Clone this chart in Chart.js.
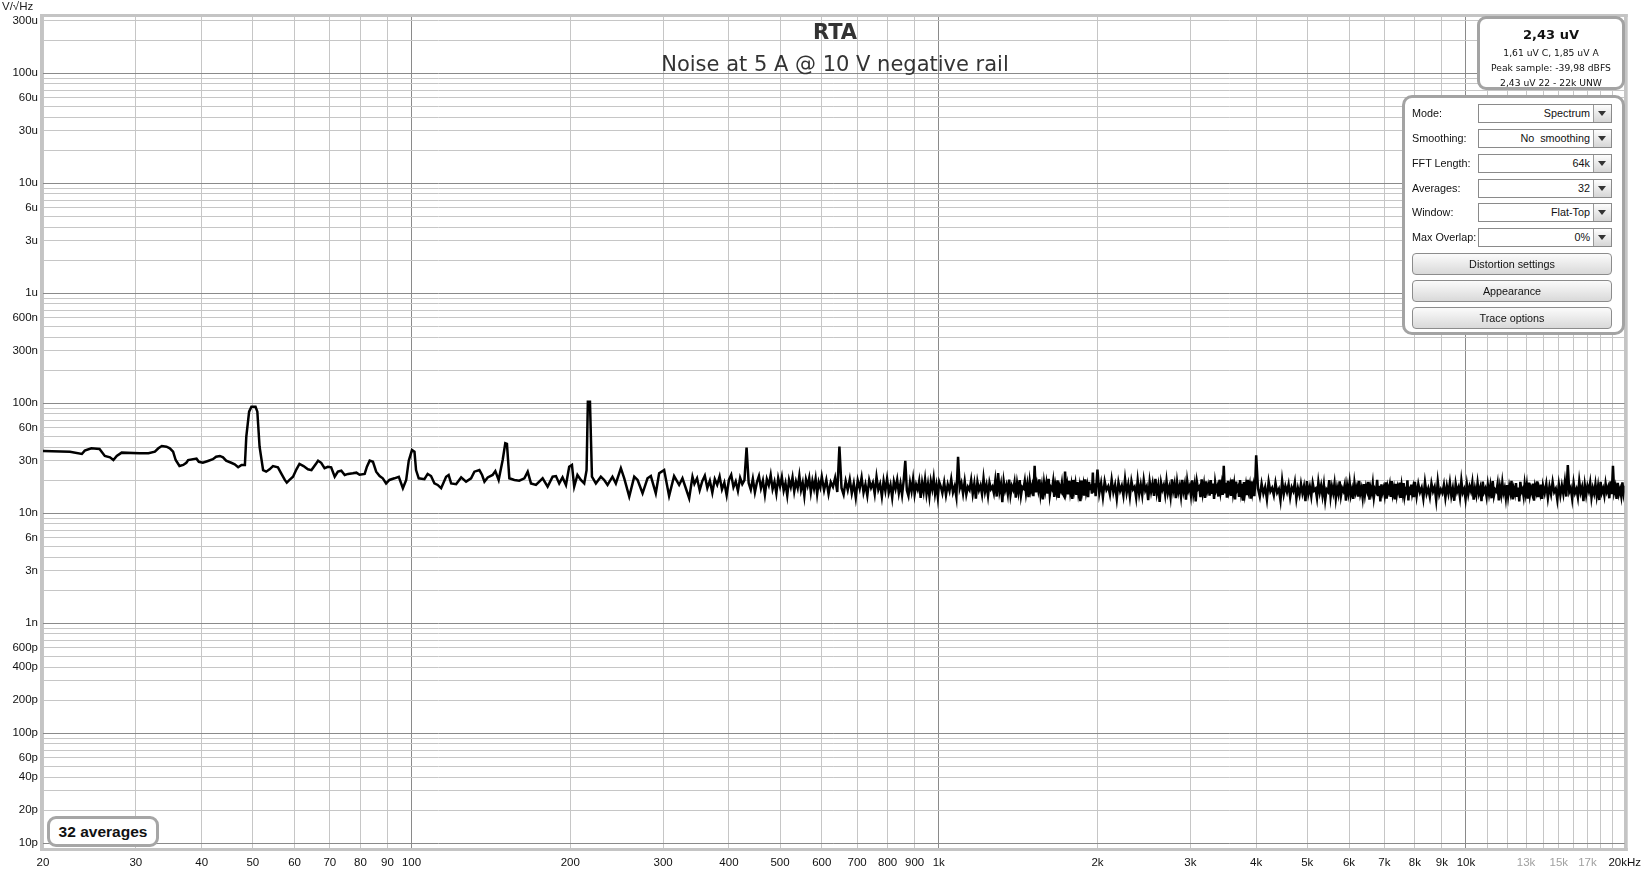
<!DOCTYPE html>
<html>
<head>
<meta charset="utf-8">
<title>RTA</title>
<script src="https://cdn.jsdelivr.net/npm/chart.js@4.4.1/dist/chart.umd.min.js"></script>
<style>
body { margin: 0; background: #fff; }
#wrap { position: relative; width: 1649px; height: 874px; font-family: "Liberation Sans", Arial, sans-serif; color: #111; }
#rta { position: absolute; left: 0; top: 0; }
.unidade { position: absolute; left: 2px; top: 0; font-size: 11.5px; line-height: 13px; color: #222; }
.titulo { position: absolute; left: 43px; width: 1584px; text-align: center; font-family: "DejaVu Sans", sans-serif; line-height: 1; }
.leitura { position: absolute; left: 1477px; top: 16px; width: 142px; height: 68px; border: 3px solid #a3a3a3; border-radius: 9px; background: #fff; }
.leitura div { position: absolute; left: 0; width: 100%; text-align: center; font-family: "DejaVu Sans", sans-serif; font-size: 9.2px; line-height: 14px; color: #111; }
.leitura .grande { font-size: 13px; font-weight: bold; line-height: 18px; }
.painel { position: absolute; left: 1402px; top: 95px; width: 217px; height: 234px; border: 3px solid #a3a3a3; border-radius: 10px; background: #fff; }
.rotulo { position: absolute; left: 1412px; height: 19px; line-height: 19px; font-size: 10.8px; color: #111; }
.combo { position: absolute; left: 1478px; width: 134px; height: 19px; box-sizing: border-box; border: 1px solid #8a8a8a; background: #fff; text-align: right; padding-right: 21px; line-height: 17px; font-size: 10.8px; }
.combo .seta { position: absolute; right: 0; top: 0; width: 17px; height: 17px; border-left: 1px solid #9a9a9a; background: linear-gradient(#fdfdfd, #d6d6d6); }
.combo .seta::after { content: ""; position: absolute; left: 4px; top: 6px; border-left: 4px solid transparent; border-right: 4px solid transparent; border-top: 5px solid #333; }
.botao { position: absolute; left: 1412px; width: 200px; height: 22px; box-sizing: border-box; border: 1px solid #8c8c8c; border-radius: 4px; background: linear-gradient(#fbfbfb, #d9d9d9); text-align: center; line-height: 20px; font-size: 10.8px; }
.medias { position: absolute; left: 47px; top: 816px; width: 106px; height: 25px; border: 3px solid #a6a6a6; border-radius: 9px; background: #fff; text-align: center; line-height: 25px; font-size: 15.5px; font-weight: bold; color: #111; }
</style>
</head>
<body>
<div id="wrap">
  <canvas id="rta" width="1649" height="874"></canvas>
  <div class="unidade">V/√Hz</div>
  <div class="titulo" style="top:22px; font-size:21px; font-weight:bold; color:#333;">RTA</div>
  <div class="titulo" style="top:54px; font-size:21px; color:#333;">Noise at 5 A @ 10 V negative rail</div>

  <div class="leitura">
    <div class="grande" style="top:7px;">2,43 uV</div>
    <div style="top:27px;">1,61 uV C, 1,85 uV A</div>
    <div style="top:42px;">Peak sample: -39,98 dBFS</div>
    <div style="top:57px;">2,43 uV 22 - 22k UNW</div>
  </div>

  <div class="painel"></div>
  <div class="rotulo" style="top:104px;">Mode:</div>
  <div class="combo" style="top:104px;">Spectrum<span class="seta"></span></div>
  <div class="rotulo" style="top:129px;">Smoothing:</div>
  <div class="combo" style="top:129px;">No&nbsp; smoothing<span class="seta"></span></div>
  <div class="rotulo" style="top:154px;">FFT Length:</div>
  <div class="combo" style="top:154px;">64k<span class="seta"></span></div>
  <div class="rotulo" style="top:179px;">Averages:</div>
  <div class="combo" style="top:179px;">32<span class="seta"></span></div>
  <div class="rotulo" style="top:203px;">Window:</div>
  <div class="combo" style="top:203px;">Flat-Top<span class="seta"></span></div>
  <div class="rotulo" style="top:228px;">Max Overlap:</div>
  <div class="combo" style="top:228px;">0%<span class="seta"></span></div>
  <div class="botao" style="top:253px;">Distortion settings</div>
  <div class="botao" style="top:280px;">Appearance</div>
  <div class="botao" style="top:307px;">Trace options</div>

  <div class="medias">32 averages</div>
</div>

<script>
// RTA - ruido da fonte (V/sqrt(Hz)), valores em nV

// 20 a 103 Hz (bins largos, com o pico de 50 Hz)
var baixoHz = [20, 22.5, 23.7, 24.0, 24.7, 25.6, 26.2, 26.8, 27.2, 27.6, 28.2, 30.5, 31.7, 32.6, 33.1, 33.6, 34.3, 34.8, 35.3, 35.7,
    36.3, 36.9, 37.4, 37.7, 39.1, 39.5, 40.2, 41.1, 42.0, 42.6, 43.3, 43.9, 44.5, 45.5, 46.2, 46.9, 47.6, 48.3, 48.6, 49.2,
    49.7, 50.6, 51.0, 51.5, 52.3, 53.0, 53.8, 54.6, 55.8, 56.6, 57.5, 58.0, 58.7, 59.6, 60.5, 61.3, 62.4, 63.6, 64.6, 66.0,
    66.5, 67.4, 68.4, 69.4, 70.4, 71.5, 72.5, 73.6, 74.7, 75.8, 77.4, 78.6, 79.7, 81.5, 82.3, 83.3, 84.5, 85.7, 87.0, 88.2,
    89.5, 90.8, 92.8, 94.6, 96.3, 97.7, 98.8, 100.2, 101.3, 102.0, 103.2];
var baixoNv = [36.9, 36.3, 34.6, 37.1, 39.0, 38.4, 33.2, 32.3, 30.5, 33.2, 35.6, 35.1, 35.1, 36.3, 39.0, 40.9, 40.3, 39.0, 36.3, 30.5,
    26.9, 27.5, 28.8, 30.5, 31.4, 29.4, 28.8, 29.9, 31.0, 32.7, 33.2, 32.3, 30.1, 28.8, 27.9, 26.2, 27.5, 27.5, 49.7, 83.9,
    93.1, 93.1, 83.9, 40.3, 24.7, 23.9, 25.1, 26.9, 26.2, 23.1, 20.1, 19.0, 20.1, 21.5, 25.1, 28.1, 26.9, 25.1, 24.7, 28.5,
    30.1, 28.8, 25.7, 26.5, 26.2, 21.5, 23.9, 24.4, 22.3, 22.8, 23.1, 23.4, 22.4, 22.8, 26.5, 30.1, 29.4, 23.9, 21.8, 20.8,
    18.7, 20.1, 20.8, 21.5, 16.9, 20.1, 30.1, 37.6, 36.3, 24.7, 20.8];

// 105 a 341 Hz (harmonicos de 50 Hz)
var humHz = [105.8, 107.3, 108.9, 110.5, 112.1, 113.8, 116.3, 117.6, 118.9, 121.5, 124.2, 126.9, 129.7, 131.6, 134.5, 136.1, 137.5, 139.5, 142.5, 144.2,
    146.3, 148.9, 150.6, 151.7, 153.3, 156.7, 160.1, 163.7, 166.1, 168.5, 172.2, 177.3, 181.2, 185.2, 187.9, 190.6, 193.4, 196.3, 199.1, 201.5,
    203.5, 206.4, 209.5, 212.6, 214.8, 216.0, 218.0, 219.9, 223.7, 228.6, 232.0, 235.4, 240.5, 244.1, 249.5, 253.2, 258.8, 264.5, 268.4, 274.3,
    280.3, 284.4, 290.6, 294.9, 301.4, 308.0, 314.8, 321.8, 326.5, 336.2, 341.1];
var humNv = [20.4, 22.8, 21.8, 18.7, 18.1, 16.9, 21.5, 22.3, 18.7, 18.4, 21.2, 19.4, 20.8, 23.9, 24.7, 22.3, 19.4, 21.2, 22.3, 24.2,
    20.1, 30.5, 43.3, 42.7, 20.8, 20.1, 19.8, 20.8, 23.9, 18.7, 18.1, 20.8, 17.5, 21.5, 21.8, 18.7, 21.2, 18.1, 26.5, 27.5,
    17.5, 22.3, 20.1, 18.7, 24.7, 103.4, 103.4, 21.5, 18.7, 21.5, 20.1, 18.1, 21.5, 18.7, 25.7, 20.8, 14.2, 21.5, 20.1, 15.2,
    20.8, 21.8, 15.2, 23.1, 24.7, 14.4, 21.8, 18.1, 20.8, 13.7, 21.5];

// 344 Hz a 1 kHz
var medioHz = [344, 348, 352, 356, 360, 364, 368, 372, 376, 380, 384, 388, 392, 396, 400, 404, 408, 412, 416, 420,
    424, 428, 432, 436, 440, 444, 448, 452, 456, 460, 464, 468, 472, 476, 480, 484, 488, 492, 496, 500,
    504, 508, 512, 516, 520, 524, 528, 532, 536, 540, 544, 548, 552, 556, 560, 564, 568, 572, 576, 580,
    584, 588, 592, 596, 600,
    606, 612, 618, 624, 630, 636, 642, 648, 654, 660, 666, 672, 678, 684, 690, 696, 702, 708, 714, 720,
    726, 732, 738, 744, 750, 756, 762, 768, 774, 780, 786, 792, 798, 804, 810, 816, 822, 828, 834, 840,
    846, 852, 858, 864, 870, 876, 882, 888, 894, 900, 906, 912, 918, 924, 930, 936, 942, 948, 954, 960,
    966, 972, 978, 984, 990, 996, 1002];
var medioNv = [18.5, 20.8, 16.2, 19.6, 22.0, 17.0, 19.8, 15.4, 20.5, 18.2, 21.6, 16.5, 19.0, 14.6, 20.2, 22.4, 17.3, 19.5, 16.0, 21.0,
    18.4, 20.0, 39.6, 18.8, 16.4, 20.6, 15.5, 19.2, 21.8, 16.9, 19.9, 14.8, 20.4, 18.0, 22.3, 16.6, 19.3, 15.2, 20.9, 17.6,
    21.4, 16.1, 18.8, 14.5, 20.1, 17.4, 21.2, 15.8, 19.4, 17.0, 22.0, 16.3, 19.0, 14.4, 20.3, 17.8, 21.0, 15.6, 19.7, 16.8,
    20.6, 15.0, 19.2, 17.2, 21.5,
    16.2, 20.1, 15.0, 19.2, 17.4, 21.0, 15.6, 40.4, 17.0, 14.8, 19.6, 16.3, 20.4, 15.2, 18.7, 13.9, 19.9, 16.8, 21.2, 15.4,
    18.3, 14.5, 20.0, 17.1, 19.0, 15.0, 21.4, 16.4, 18.5, 14.2, 19.7, 16.0, 20.6, 15.5, 18.1, 13.9, 19.4, 16.7, 20.2, 15.3,
    18.6, 14.7, 19.8, 30.0, 16.2, 14.4, 19.1, 15.9, 20.5, 14.9, 18.2, 16.5, 19.6, 13.8, 18.9, 15.7, 20.3, 15.0, 18.4, 14.3,
    19.5, 16.6, 20.8, 15.1, 18.0, 14.0, 19.3];

// 1 a 4 kHz
var khzHz = [1008, 1016, 1024, 1032, 1040, 1048, 1056, 1064, 1072, 1080, 1088, 1096, 1104, 1112, 1120, 1128, 1136, 1144, 1152, 1160,
    1168, 1176, 1184, 1192, 1200, 1208, 1216, 1224, 1232, 1240, 1248, 1256, 1264, 1272, 1280, 1288, 1296, 1304, 1312, 1320,
    1328, 1336, 1344, 1352, 1360, 1368, 1376, 1384, 1392, 1400, 1408, 1416, 1424, 1432, 1440, 1448, 1456, 1464, 1472, 1480,
    1488, 1496, 1504, 1512, 1520, 1528, 1536, 1544, 1552, 1560, 1568, 1576, 1584, 1592, 1600, 1608, 1616, 1624, 1632, 1640,
    1648, 1656, 1664, 1672, 1680, 1688, 1696, 1704, 1712, 1720, 1728, 1736, 1744, 1752, 1760, 1768, 1776, 1784, 1792, 1800,
    1808, 1816, 1824, 1832, 1840, 1848, 1856, 1864, 1872, 1880, 1888, 1896, 1904, 1912, 1920, 1928, 1936, 1944, 1952, 1960,
    1968, 1976, 1984, 1992, 2000,
    2016, 2032, 2048, 2064, 2080, 2096, 2112, 2128, 2144, 2160, 2176, 2192, 2208, 2224, 2240, 2256, 2272, 2288, 2304, 2320,
    2336, 2352, 2368, 2384, 2400, 2416, 2432, 2448, 2464, 2480, 2496, 2512, 2528, 2544, 2560, 2576, 2592, 2608, 2624, 2640,
    2656, 2672, 2688, 2704, 2720, 2736, 2752, 2768, 2784, 2800, 2816, 2832, 2848, 2864, 2880, 2896, 2912, 2928, 2944, 2960,
    2976, 2992, 3008, 3024, 3040, 3056, 3072, 3088, 3104, 3120, 3136, 3152, 3168, 3184, 3200, 3216, 3232, 3248, 3264, 3280,
    3296, 3312, 3328, 3344, 3360, 3376, 3392, 3408, 3424, 3440, 3456, 3472, 3488, 3504, 3520, 3536, 3552, 3568, 3584, 3600,
    3616, 3632, 3648, 3664, 3680, 3696, 3712, 3728, 3744, 3760, 3776, 3792, 3808, 3824, 3840, 3856, 3872, 3888, 3904, 3920,
    3936, 3952, 3968, 3984, 4000];
var khzNv = [17.8, 15.2, 19.1, 14.6, 18.3, 16.0, 20.4, 15.5, 17.6, 14.1, 32.7, 16.8, 18.9, 15.1, 19.6, 14.8, 17.4, 16.3, 20.1, 15.0,
    18.6, 13.6, 19.3, 16.2, 17.9, 14.9, 20.8, 15.7, 18.1, 14.4, 19.0, 16.6, 17.5, 15.3, 19.8, 14.2, 23.2, 15.8, 18.4, 12.6,
    19.5, 16.1, 18.0, 15.0, 20.2, 14.7, 17.7, 16.4, 19.2, 13.9, 18.7, 15.6, 20.0, 14.5, 17.3, 16.8, 19.7, 15.2, 18.2, 14.0,
    19.4, 15.9, 17.8, 14.3, 27.0, 15.5, 18.5, 16.2, 20.3, 14.8, 17.6, 13.4, 19.0, 16.0, 18.8, 15.1, 20.6, 14.6, 17.2, 16.5,
    19.5, 14.1, 18.0, 15.7, 19.9, 13.8, 17.5, 16.3, 18.9, 15.0, 14.4, 24.0, 16.1, 18.3, 14.9, 19.7, 15.6, 17.9, 13.5, 20.1,
    16.4, 18.6, 14.7, 19.2, 15.3, 17.4, 12.9, 19.8, 16.0, 18.1, 14.5, 20.4, 15.8, 17.7, 14.0, 19.3, 16.6, 18.4, 15.1, 23.5,
    15.4, 18.7, 14.3, 19.0, 24.9,
    15.2, 18.8, 14.0, 19.5, 16.3, 17.6, 14.8, 20.2, 15.5, 18.1, 13.6, 19.1, 16.0, 17.8, 14.5, 20.5, 15.4, 18.4, 14.2, 19.6,
    16.5, 17.4, 13.9, 19.9, 15.0, 18.2, 14.6, 20.0, 16.1, 17.5, 13.2, 19.4, 15.7, 18.6, 14.4, 20.6, 15.2, 17.9, 12.7, 19.0,
    16.4, 18.0, 14.8, 19.7, 15.3, 17.3, 14.1, 20.3, 16.0, 18.5, 13.7, 19.2, 15.6, 17.7, 14.3, 20.1, 15.9, 18.3, 13.3, 19.6,
    16.2, 17.6, 14.6, 19.9, 15.1, 18.0, 12.8, 19.3, 16.7, 17.4, 14.0, 20.4, 15.4, 18.2, 13.8, 19.5, 16.1, 17.8, 14.5, 20.0,
    15.0, 18.6, 13.5, 19.1, 16.3, 17.5, 14.2, 20.2, 15.7, 18.3, 14.7, 27.0, 15.2, 18.9, 13.9, 19.7, 16.0, 17.9, 14.4, 20.3,
    15.5, 18.1, 13.4, 19.4, 16.4, 17.3, 14.1, 20.0, 15.8, 18.5, 13.0, 19.2, 15.3, 17.7, 14.6, 20.1, 16.2, 18.0, 13.6, 19.5,
    15.6, 17.6, 14.3, 19.1, 33.7];

// 4 a 20 kHz
var altoHz = [4032, 4064, 4096, 4128, 4160, 4192, 4224, 4256, 4288, 4320, 4352, 4384, 4416, 4448, 4480, 4512, 4544, 4576, 4608, 4640,
    4672, 4704, 4736, 4768, 4800, 4832, 4864, 4896, 4928, 4960, 4992, 5024, 5056, 5088, 5120, 5152, 5184, 5216, 5248, 5280,
    5312, 5344, 5376, 5408, 5440, 5472, 5504, 5536, 5568, 5600, 5632, 5664, 5696, 5728, 5760, 5792, 5824, 5856, 5888, 5920,
    5952, 5984, 6016, 6048, 6080, 6112, 6144, 6176, 6208, 6240, 6272, 6304, 6336, 6368, 6400, 6432, 6464, 6496, 6528, 6560,
    6592, 6624, 6656, 6688, 6720, 6752, 6784, 6816, 6848, 6880, 6912, 6944, 6976, 7008, 7040, 7072, 7104, 7136, 7168, 7200,
    7232, 7264, 7296, 7328, 7360, 7392, 7424, 7456, 7488, 7520, 7552, 7584, 7616, 7648, 7680, 7712, 7744, 7776, 7808, 7840,
    7872, 7904, 7936, 7968, 8000,
    8060, 8120, 8180, 8240, 8300, 8360, 8420, 8480, 8540, 8600, 8660, 8720, 8780, 8840, 8900, 8960, 9020, 9080, 9140, 9200,
    9260, 9320, 9380, 9440, 9500, 9560, 9620, 9680, 9740, 9800, 9860, 9920, 9980, 10040, 10100, 10160, 10220, 10280, 10340, 10400,
    10460, 10520, 10580, 10640, 10700, 10760, 10820, 10880, 10940, 11000, 11060, 11120, 11180, 11240, 11300, 11360, 11420, 11480, 11540, 11600,
    11660, 11720, 11780, 11840, 11900, 11960, 12020, 12080, 12140, 12200, 12260, 12320, 12380, 12440, 12500, 12560, 12620, 12680, 12740, 12800,
    12860, 12920, 12980, 13040, 13100, 13160, 13220, 13280, 13340, 13400, 13460, 13520, 13580, 13640, 13700, 13760, 13820, 13880, 13940, 14000,
    14100, 14200, 14300, 14400, 14500, 14600, 14700, 14800, 14900, 15000, 15100, 15200, 15300, 15400, 15500, 15600, 15700, 15800, 15900, 16000,
    16100, 16200, 16300, 16400, 16500, 16600, 16700, 16800, 16900, 17000, 17100, 17200, 17300, 17400, 17500, 17600, 17700, 17800, 17900, 18000,
    18100, 18200, 18300, 18400, 18500, 18600, 18700, 18800, 18900, 19000, 19100, 19200, 19300, 19400, 19500, 19600, 19700, 19800, 19900, 20000];
var altoNv = [16.8, 14.2, 18.6, 15.1, 17.3, 13.4, 19.4, 15.8, 17.0, 14.6, 18.9, 15.4, 16.6, 13.1, 19.8, 14.9, 17.7, 15.6, 18.3, 14.0,
    17.2, 15.9, 19.1, 13.6, 16.9, 14.7, 18.5, 15.2, 17.6, 12.9, 19.6, 15.0, 17.4, 14.3, 18.8, 16.1, 16.7, 13.8, 19.2, 15.5,
    17.9, 14.5, 18.2, 13.2, 16.4, 15.7, 20.0, 14.1, 17.5, 15.3, 18.7, 13.7, 17.1, 15.0, 19.5, 14.4, 16.9, 15.9, 18.1, 13.0,
    17.8, 15.2, 19.0, 14.6, 16.5, 13.5, 18.9, 15.6, 17.3, 14.2, 19.7, 15.1, 16.8, 13.9, 18.4, 14.8, 17.6, 16.0, 19.3, 13.3,
    17.0, 15.4, 18.6, 14.0, 16.6, 15.8, 20.1, 14.3, 17.8, 12.8, 18.3, 15.5, 16.9, 14.7, 19.1, 13.6, 17.4, 15.9, 18.0, 14.1,
    19.6, 15.0, 16.7, 13.4, 18.5, 14.9, 17.2, 15.7, 19.0, 13.8, 17.7, 15.3, 18.8, 14.4, 16.3, 15.6, 19.9, 13.1, 17.5, 14.6,
    18.2, 15.2, 16.9, 14.0, 19.3,
    14.3, 18.4, 15.5, 17.1, 13.6, 19.2, 15.0, 16.8, 14.1, 18.7, 15.8, 17.4, 13.2, 19.5, 14.8, 16.5, 15.3, 18.1, 13.9, 17.7,
    15.1, 19.0, 14.4, 16.9, 13.0, 18.6, 15.7, 17.2, 14.0, 19.8, 15.4, 16.6, 13.5, 18.3, 14.9, 17.5, 15.9, 19.1, 13.3, 16.8,
    14.6, 18.9, 15.2, 17.0, 12.9, 19.4, 15.6, 16.7, 14.2, 18.2, 15.0, 17.8, 13.7, 19.6, 14.5, 16.4, 15.8, 18.5, 13.1, 17.3,
    14.8, 19.0, 15.3, 16.9, 13.8, 18.0, 14.4, 17.6, 15.5, 19.7, 13.4, 16.6, 15.0, 18.8, 14.1, 17.1, 12.8, 19.3, 15.7, 16.5,
    14.3, 18.4, 15.2, 17.9, 13.6, 19.0, 14.7, 16.8, 15.4, 18.6, 13.0, 17.4, 15.8, 19.5, 14.0, 16.7, 15.1, 18.2, 13.5, 17.8,
    15.2, 18.5, 13.8, 17.6, 14.9, 19.2, 15.6, 16.7, 13.3, 18.3, 14.6, 17.9, 15.0, 19.4, 14.2, 27.5, 15.7, 17.0, 13.6, 18.8,
    15.3, 16.6, 14.0, 19.6, 15.5, 17.3, 12.9, 18.1, 14.7, 17.7, 15.9, 19.0, 13.9, 16.9, 15.1, 18.4, 14.4, 17.5, 13.2, 19.3,
    15.4, 16.8, 14.5, 18.6, 15.8, 17.2, 13.7, 19.5, 14.9, 27.0, 15.6, 17.4, 13.5, 18.9, 15.0, 16.5, 14.3, 19.1, 15.2, 17.8];

// eixos
var yTickValores = [3e-4, 1e-4, 6e-5, 3e-5, 1e-5, 6e-6, 3e-6, 1e-6, 6e-7, 3e-7, 1e-7, 6e-8, 3e-8, 1e-8, 6e-9, 3e-9, 1e-9,
    6e-10, 4e-10, 2e-10, 1e-10, 6e-11, 4e-11, 2e-11, 1e-11];
var yTickRotulos = ['300u', '100u', '60u', '30u', '10u', '6u', '3u', '1u', '600n', '300n', '100n', '60n', '30n', '10n', '6n', '3n', '1n',
    '600p', '400p', '200p', '100p', '60p', '40p', '20p', '10p'];
var xTickValores = [20, 30, 40, 50, 60, 70, 80, 90, 100, 200, 300, 400, 500, 600, 700, 800, 900, 1000, 2000, 3000, 4000, 5000,
    6000, 7000, 8000, 9000, 10000, 13000, 15000, 17000, 20000];
var xTickRotulos = ['20', '30', '40', '50', '60', '70', '80', '90', '100', '200', '300', '400', '500', '600', '700', '800', '900',
    '1k', '2k', '3k', '4k', '5k', '6k', '7k', '8k', '9k', '10k', '13k', '15k', '17k', '20kHz'];
var xRotulosClaros = ['13k', '15k', '17k'];

var Y_MIN = 9.06e-12;
var Y_MAX = 3.25e-4;

function montarPontos() {
    var pontos = [];
    var partes = [[baixoHz, baixoNv], [humHz, humNv], [medioHz, medioNv], [khzHz, khzNv], [altoHz, altoNv]];
    for (var p = 0; p < partes.length; p++) {
        var hz = partes[p][0];
        var nv = partes[p][1];
        var n = Math.min(hz.length, nv.length);
        for (var i = 0; i < n; i++) {
            pontos.push({ x: hz[i], y: nv[i] * 1e-9 });
        }
    }
    return pontos;
}

function acharRotulo(valores, rotulos, v) {
    for (var i = 0; i < valores.length; i++) {
        if (Math.abs(v / valores[i] - 1) < 1e-6) return rotulos[i];
    }
    return '';
}

function ehDecada(v) {
    var l = Math.log10(v);
    return Math.abs(l - Math.round(l)) < 1e-6;
}

// linhas de grade: 1..9 em cada decada
var gradeY = [];
for (var e = -12; e <= -4; e++) {
    for (var m = 1; m <= 9; m++) {
        var v = m * Math.pow(10, e);
        if (v >= Y_MIN && v <= Y_MAX) gradeY.push(v);
    }
}
var gradeX = [];
for (var e2 = 1; e2 <= 4; e2++) {
    for (var m2 = 1; m2 <= 9; m2++) {
        var f = m2 * Math.pow(10, e2);
        if (f >= 20 && f <= 20000) gradeX.push(f);
    }
}
for (var k = 11; k <= 19; k++) gradeX.push(k * 1000);
gradeX.sort(function (a, b) { return a - b; });

function corGrade(c) {
    if (!c.tick) return '#c6c6c6';
    return ehDecada(c.tick.value) ? '#8a8a8a' : '#c6c6c6';
}

// moldura cinza em volta da area do grafico
var moldura = {
    id: 'moldura',
    afterDatasetsDraw: function (chart) {
        var ctx = chart.ctx;
        var a = chart.chartArea;
        ctx.save();
        ctx.fillStyle = '#c4c4c4';
        ctx.fillRect(a.left - 3, a.top - 3, a.right - a.left + 6, 3);
        ctx.fillRect(a.left - 3, a.bottom, a.right - a.left + 6, 3);
        ctx.fillRect(a.left - 3, a.top - 3, 3, a.bottom - a.top + 6);
        ctx.fillRect(a.right, a.top - 3, 3, a.bottom - a.top + 6);
        ctx.restore();
    }
};

var fonteEixo = { family: "'Liberation Sans', Arial, sans-serif", size: 11.5 };

var ctx = document.getElementById('rta').getContext('2d');

var grafico = new Chart(ctx, {
    type: 'line',
    data: {
        datasets: [{
            label: 'RTA',
            data: montarPontos(),
            borderColor: '#000000',
            borderWidth: 2.5,
            pointRadius: 0,
            tension: 0,
            fill: false
        }]
    },
    options: {
        responsive: false,
        animation: false,
        events: [],
        layout: { padding: { top: 17, right: 22, left: 0, bottom: 0 } },
        plugins: {
            legend: { display: false },
            tooltip: { enabled: false }
        },
        scales: {
            x: {
                type: 'logarithmic',
                min: 20,
                max: 20000,
                afterBuildTicks: function (s) { s.ticks = gradeX.map(function (v) { return { value: v }; }); },
                afterFit: function (s) { s.height = 26; },
                border: { display: false },
                grid: { color: corGrade, lineWidth: 1, drawTicks: false },
                ticks: {
                    autoSkip: false,
                    maxRotation: 0,
                    minRotation: 0,
                    padding: 8,
                    font: fonteEixo,
                    color: function (c) {
                        var r = acharRotulo(xTickValores, xTickRotulos, c.tick.value);
                        return xRotulosClaros.indexOf(r) >= 0 ? '#a0a0a0' : '#111';
                    },
                    callback: function (v) { return acharRotulo(xTickValores, xTickRotulos, v); }
                }
            },
            y: {
                type: 'logarithmic',
                min: Y_MIN,
                max: Y_MAX,
                afterBuildTicks: function (s) { s.ticks = gradeY.map(function (v) { return { value: v }; }); },
                afterFit: function (s) { s.width = 43; },
                border: { display: false },
                grid: { color: corGrade, lineWidth: 1, drawTicks: false },
                ticks: {
                    autoSkip: false,
                    padding: 5,
                    font: fonteEixo,
                    color: '#111',
                    callback: function (v) { return acharRotulo(yTickValores, yTickRotulos, v); }
                }
            }
        }
    },
    plugins: [moldura]
});
</script>
</body>
</html>
